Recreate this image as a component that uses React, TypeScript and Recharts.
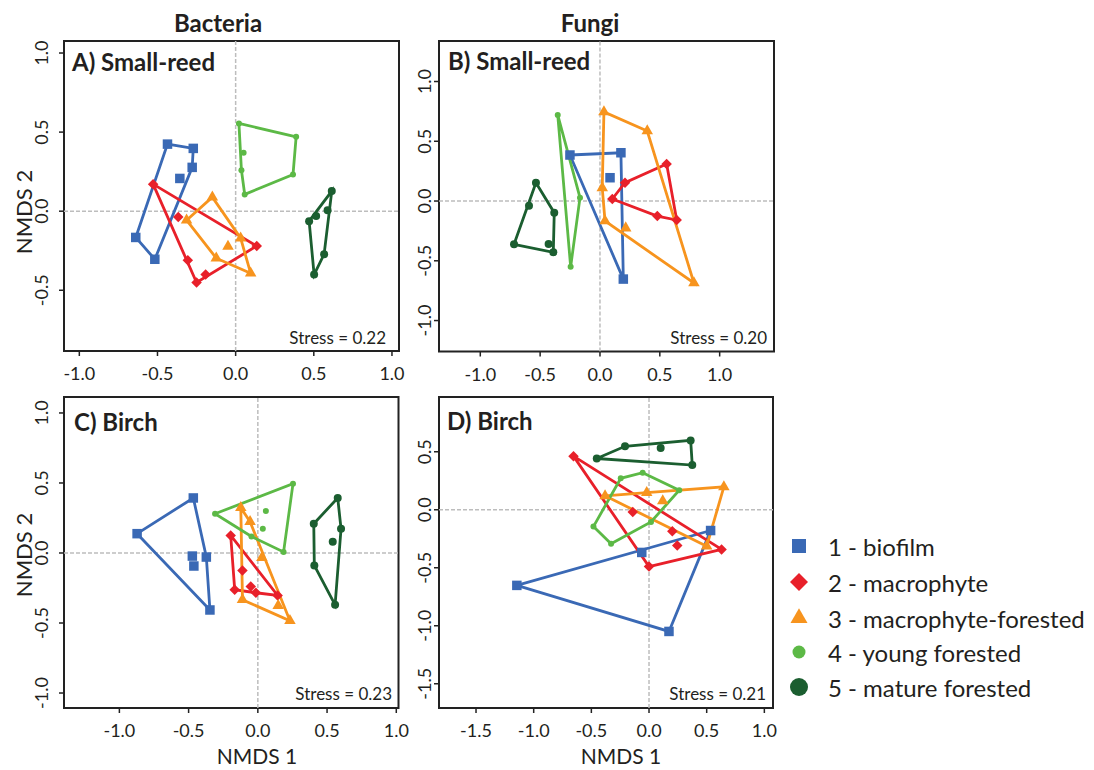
import React from "react";
import { ScatterChart, Scatter, XAxis, YAxis, ReferenceLine, ReferenceArea } from "recharts";

type Pt = [number, number];

const GROUPS = [
  "1 - biofilm",
  "2 - macrophyte",
  "3 - macrophyte-forested",
  "4 - young forested",
  "5 - mature forested",
];
const COLORS = ["#3a69b5", "#e8202a", "#f7941e", "#5cb946", "#1b5e30"];
const SHAPES = ["square", "diamond", "triangle", "circle", "circle"];
const PANEL_SIZES = [9.5, 10.5, 11.5, 6, 8];
const LEGEND_SIZES = [14, 18, 17, 13, 18];

// A) Bacteria, small-reed
const A1: Pt[] = [[-0.436, 0.424], [-0.271, 0.397], [-0.278, 0.277], [-0.357, 0.207], [-0.639, -0.166], [-0.517, -0.304]];
const A2: Pt[] = [[-0.528, 0.171], [-0.367, -0.036], [0.135, -0.22], [-0.192, -0.401], [-0.25, -0.451], [-0.306, -0.31]];
const A3: Pt[] = [[-0.149, 0.089], [-0.314, -0.057], [-0.124, -0.297], [0.096, -0.392], [0.032, -0.171], [-0.049, -0.222]];
const A4: Pt[] = [[0.021, 0.555], [0.387, 0.47], [0.367, 0.232], [0.058, 0.106], [0.037, 0.259], [0.051, 0.369]];
const A5: Pt[] = [[0.615, 0.127], [0.588, 0.006], [0.566, -0.272], [0.502, -0.401], [0.47, -0.063], [0.515, -0.03]];

// B) Fungi, small-reed
const B1: Pt[] = [[-0.251, 0.385], [0.175, 0.404], [0.195, -0.653], [0.084, 0.195]];
const B2: Pt[] = [[0.557, 0.31], [0.641, -0.159], [0.479, -0.126], [0.103, 0.017], [0.209, 0.153]];
const B3: Pt[] = [[0.033, 0.745], [0.395, 0.586], [0.785, -0.686], [0.042, -0.167], [0.019, 0.109], [0.215, -0.226]];
const B4: Pt[] = [[-0.353, 0.72], [-0.167, 0.028], [-0.245, -0.55]];
const B5: Pt[] = [[-0.535, 0.153], [-0.382, -0.098], [-0.39, -0.429], [-0.718, -0.362], [-0.593, -0.039], [-0.429, -0.36]];

// C) Bacteria, birch
const C1: Pt[] = [[-0.872, 0.138], [-0.466, 0.393], [-0.372, -0.029], [-0.346, -0.407], [-0.473, -0.022], [-0.462, -0.093]];
const C2: Pt[] = [[-0.196, 0.125], [0.143, -0.303], [-0.167, -0.262], [-0.111, -0.125], [-0.051, -0.239], [-0.014, -0.284]];
const C3: Pt[] = [[-0.123, 0.323], [-0.056, 0.223], [0.232, -0.484], [-0.111, -0.334], [0.029, -0.034], [0.147, -0.377]];
const C4: Pt[] = [[-0.309, 0.28], [0.254, 0.495], [0.186, 0.007], [0.058, 0.3], [0.036, 0.173], [-0.046, 0.118]];
const C5: Pt[] = [[0.577, 0.393], [0.601, 0.173], [0.558, -0.37], [0.408, -0.089], [0.404, 0.209], [0.541, 0.08]];

// D) Fungi, birch
const D1: Pt[] = [[-1.146, -0.652], [0.534, -0.179], [0.173, -1.049], [-0.063, -0.368]];
const D2: Pt[] = [[-0.655, 0.462], [0.629, -0.342], [0.0, -0.49], [-0.141, -0.02], [0.202, -0.185], [0.245, -0.308]];
const D3: Pt[] = [[-0.381, 0.12], [0.649, 0.197], [0.5, -0.314], [-0.02, 0.148], [0.119, 0.077]];
const D4: Pt[] = [[-0.245, 0.271], [-0.055, 0.319], [0.262, 0.168], [0.017, -0.105], [-0.329, -0.293], [-0.482, -0.145]];
const D5: Pt[] = [[-0.453, 0.442], [-0.208, 0.547], [0.361, 0.598], [0.375, 0.385], [0.101, 0.532]];

const TICKS_1 = [-1, -0.5, 0, 0.5, 1];
const TICKS_A_Y = [-0.5, 0, 0.5, 1];
const TICKS_D_X = [-1.5, -1, -0.5, 0, 0.5, 1];
const TICKS_D_Y = [-1.5, -1, -0.5, 0, 0.5];

const FONT = "Lato, 'Open Sans', sans-serif";
const TEXT = "#231f20";

const PANELS = [
  {
    label: "A) Small-reed", stress: "Stress = 0.22", groups: [A1, A2, A3, A4, A5],
    xTicks: TICKS_1, yTicks: TICKS_A_Y, xDomain: [-1.098, 1.045], yDomain: [-0.884, 1.076],
    box: { left: 63.5, top: 41, w: 335, h: 310 }, labelAt: [72, 61], stressAt: [386, 337], yLabX: 41,
  },
  {
    label: "B) Small-reed", stress: "Stress = 0.20", groups: [B1, B2, B3, B4, B5],
    xTicks: TICKS_1, yTicks: TICKS_1, xDomain: [-1.345, 1.454], yDomain: [-1.259, 1.339],
    box: { left: 439, top: 41, w: 335, h: 310.5 }, labelAt: [448, 60], stressAt: [767, 337], yLabX: 424,
  },
  {
    label: "C) Birch", stress: "Stress = 0.23", groups: [C1, C2, C3, C4, C5],
    xTicks: TICKS_1, yTicks: TICKS_1, xDomain: [-1.4, 1.016], yDomain: [-1.107, 1.114],
    box: { left: 63.5, top: 397.3, w: 334.5, h: 311 }, labelAt: [74, 421], stressAt: [392, 693], yLabX: 41,
  },
  {
    label: "D) Birch", stress: "Stress = 0.21", groups: [D1, D2, D3, D4, D5],
    xTicks: TICKS_D_X, yTicks: TICKS_D_Y, xDomain: [-1.821, 1.075], yDomain: [-1.709, 0.972],
    box: { left: 439, top: 397.3, w: 334, h: 311 }, labelAt: [447, 420], stressAt: [766, 693], yLabX: 424,
  },
];

function convexHull(pts: Pt[]): Pt[] {
  const p = [...pts].sort((a, b) => a[0] - b[0] || a[1] - b[1]);
  if (p.length < 3) return [...p, p[0]];
  const cross = (o: Pt, a: Pt, b: Pt) => (a[0] - o[0]) * (b[1] - o[1]) - (a[1] - o[1]) * (b[0] - o[0]);
  const lower: Pt[] = [];
  for (const q of p) {
    while (lower.length >= 2 && cross(lower[lower.length - 2], lower[lower.length - 1], q) <= 0) lower.pop();
    lower.push(q);
  }
  const upper: Pt[] = [];
  for (const q of [...p].reverse()) {
    while (upper.length >= 2 && cross(upper[upper.length - 2], upper[upper.length - 1], q) <= 0) upper.pop();
    upper.push(q);
  }
  const hull = lower.slice(0, -1).concat(upper.slice(0, -1));
  return [...hull, hull[0]];
}

const toXY = (pts: Pt[]) => pts.map(([x, y]) => ({ x, y }));

function marker(kind: string, cx: number, cy: number, s: number, color: string) {
  if (cx == null || cy == null) return <g />;
  if (kind === "square") return <rect x={cx - s / 2} y={cy - s / 2} width={s} height={s} fill={color} />;
  if (kind === "diamond")
    return <polygon points={`${cx},${cy - s / 2} ${cx + s / 2},${cy} ${cx},${cy + s / 2} ${cx - s / 2},${cy}`} fill={color} />;
  if (kind === "triangle") {
    const h = s * 0.87;
    return <polygon points={`${cx},${cy - (h * 2) / 3} ${cx + s / 2},${cy + h / 3} ${cx - s / 2},${cy + h / 3}`} fill={color} />;
  }
  return <circle cx={cx} cy={cy} r={s / 2} fill={color} />;
}

const ML = 60;
const MT = 6;
const MR = 24;
const MB = 44;

function Panel({ p }: { p: (typeof PANELS)[number] }) {
  const { box } = p;
  const bottom = MT + box.h;
  return (
    <div style={{ position: "absolute", left: box.left - ML, top: box.top - MT }}>
      <ScatterChart width={box.w + ML + MR} height={box.h + MT + MB} margin={{ top: MT, right: MR, bottom: 0, left: 0 }}>
        <XAxis
          type="number"
          dataKey="x"
          domain={p.xDomain}
          allowDataOverflow
          ticks={p.xTicks}
          interval={0}
          height={MB}
          axisLine={false}
          tickSize={5}
          tickLine={{ stroke: "#222", strokeWidth: 1.5 }}
          tick={(t: any) => (
            <text x={t.x} y={bottom + 22} textAnchor="middle" dominantBaseline="central" fontFamily={FONT} fontSize={18} fill={TEXT}>
              {Number(t.payload.value).toFixed(1)}
            </text>
          )}
        />
        <YAxis
          type="number"
          dataKey="y"
          domain={p.yDomain}
          allowDataOverflow
          ticks={p.yTicks}
          interval={0}
          width={ML}
          axisLine={false}
          tickSize={5}
          tickLine={{ stroke: "#222", strokeWidth: 1.5 }}
          tick={(t: any) => {
            const lx = p.yLabX - (box.left - ML);
            return (
              <text
                x={lx}
                y={t.y}
                transform={`rotate(-90 ${lx} ${t.y})`}
                textAnchor="middle"
                dominantBaseline="central"
                fontFamily={FONT}
                fontSize={18}
                fill={TEXT}
              >
                {Number(t.payload.value).toFixed(1)}
              </text>
            );
          }}
        />
        <ReferenceLine x={0} stroke="#bdbdbd" strokeWidth={1.5} strokeDasharray="4 2" />
        <ReferenceLine y={0} stroke="#bdbdbd" strokeWidth={1.5} strokeDasharray="4 2" />
        {p.groups.map((g, i) => (
          <Scatter
            key={`hull-${i}`}
            data={toXY(convexHull(g))}
            line={{ stroke: COLORS[i], strokeWidth: 2.8 }}
            lineType="joint"
            shape={() => <g />}
            isAnimationActive={false}
          />
        ))}
        {p.groups.map((g, i) => (
          <Scatter
            key={`pts-${i}`}
            data={toXY(g)}
            shape={(s: any) => marker(SHAPES[i], s.cx, s.cy, PANEL_SIZES[i], COLORS[i])}
            isAnimationActive={false}
          />
        ))}
        <ReferenceArea
          x1={p.xDomain[0]}
          x2={p.xDomain[1]}
          y1={p.yDomain[0]}
          y2={p.yDomain[1]}
          fill="none"
          fillOpacity={0}
          stroke="#222"
          strokeWidth={2}
          ifOverflow="visible"
        />
      </ScatterChart>
    </div>
  );
}

export default function App() {
  return (
    <div style={{ position: "absolute", left: 0, top: 0, width: 1094, height: 770, background: "#fff", overflow: "hidden" }}>
      {PANELS.map((p, i) => (
        <Panel key={i} p={p} />
      ))}
      <svg width={1094} height={770} style={{ position: "absolute", left: 0, top: 0, pointerEvents: "none" }} fontFamily={FONT} fill={TEXT}>
        <text x={218} y={22} textAnchor="middle" dominantBaseline="central" fontSize={24} fontWeight="bold">Bacteria</text>
        <text x={590} y={22} textAnchor="middle" dominantBaseline="central" fontSize={24} fontWeight="bold">Fungi</text>
        <text x={23} y={212} transform="rotate(-90 23 212)" textAnchor="middle" dominantBaseline="central" fontSize={22}>NMDS 2</text>
        <text x={23} y={555} transform="rotate(-90 23 555)" textAnchor="middle" dominantBaseline="central" fontSize={22}>NMDS 2</text>
        <text x={257} y={755} textAnchor="middle" dominantBaseline="central" fontSize={21}>NMDS 1</text>
        <text x={621} y={755} textAnchor="middle" dominantBaseline="central" fontSize={21}>NMDS 1</text>
        {PANELS.map((p, i) => (
          <g key={i}>
            <text x={p.labelAt[0]} y={p.labelAt[1]} dominantBaseline="central" fontSize={24} fontWeight="bold">{p.label}</text>
            <text x={p.stressAt[0]} y={p.stressAt[1]} textAnchor="end" dominantBaseline="central" fontSize={17}>{p.stress}</text>
          </g>
        ))}
        {GROUPS.map((g, i) => {
          const y = [546, 582, 618, 652, 687][i];
          return (
            <g key={g}>
              {marker(SHAPES[i], 799, y, LEGEND_SIZES[i], COLORS[i])}
              <text x={828} y={y} dominantBaseline="central" fontSize={24}>{g}</text>
            </g>
          );
        })}
      </svg>
    </div>
  );
}
